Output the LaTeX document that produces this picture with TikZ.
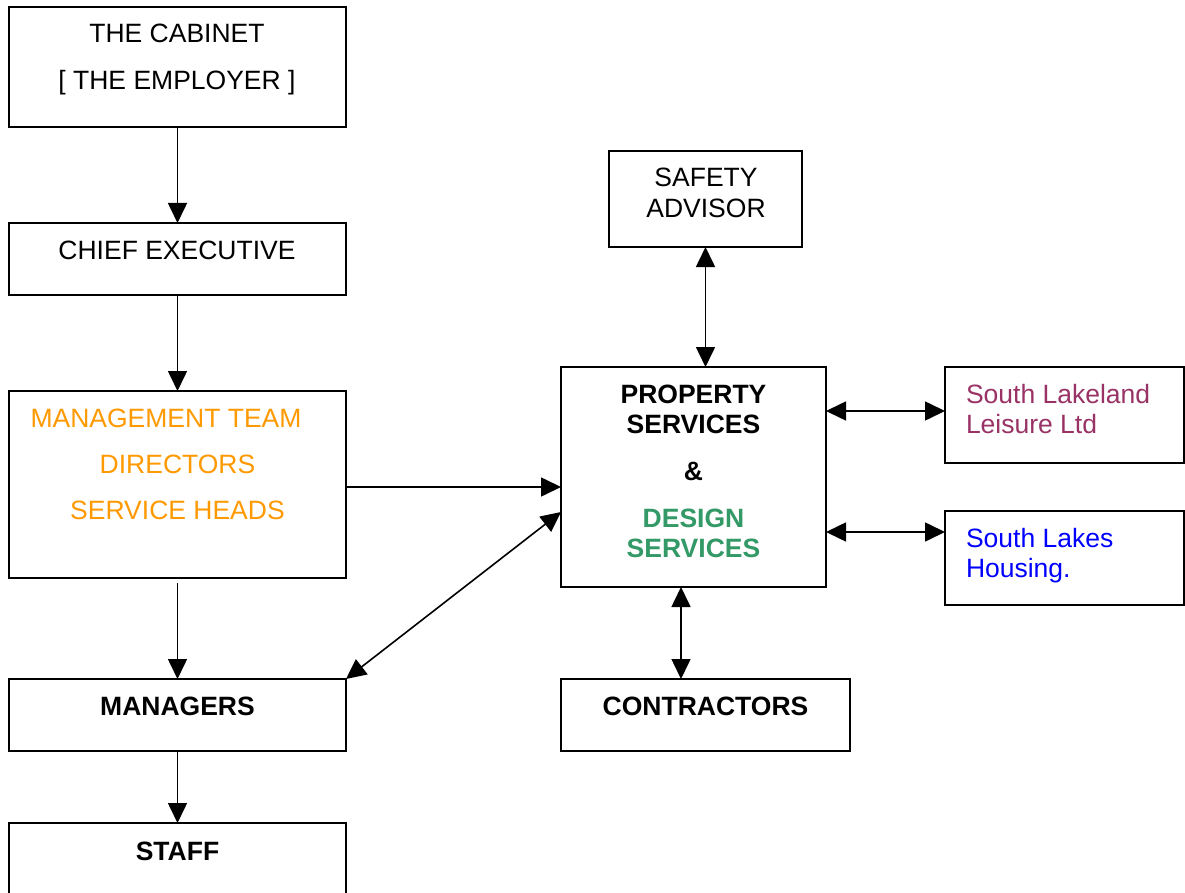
\documentclass[tikz,border=0pt]{standalone}
\usepackage{fontspec}
\setmainfont{Liberation Sans}
\usetikzlibrary{arrows.meta}
\definecolor{mgmtorange}{HTML}{FF9900}
\definecolor{designgreen}{HTML}{339966}
\definecolor{leisureplum}{HTML}{993366}
\definecolor{housingblue}{HTML}{0000FF}
\tikzset{
  box/.style={draw=black, line width=1.8pt, rectangle, inner sep=0pt, outer sep=0pt, fill=white},
  txt/.style={inner sep=0pt, outer sep=0pt, anchor=base, font=\fontsize{26.5}{30.5}\selectfont},
  btxt/.style={txt, font=\fontsize{26.5}{30.5}\selectfont\bfseries},
  ltxt/.style={txt, anchor=base west},
  conn/.style={line width=1.6pt, -{Triangle[length=20pt,width=19pt]}},
  biconn/.style={line width=1.6pt, {Triangle[length=20pt,width=19pt]}-{Triangle[length=20pt,width=19pt]}}
}
\begin{document}
\begin{tikzpicture}[x=1pt,y=-1pt]
\useasboundingbox (0,0) rectangle (1185,893);

% boxes
\node[box, minimum width=337pt, minimum height=120pt] (cab)    at (177.5,67)   {};
\node[box, minimum width=337pt, minimum height=72pt]  (chief)  at (177.5,259)  {};
\node[box, minimum width=337pt, minimum height=187pt] (mgmt)   at (177.5,484.5){};
\node[box, minimum width=337pt, minimum height=72pt]  (mgr)    at (177.5,715)  {};
\node[box, minimum width=337pt, minimum height=72pt]  (staff)  at (177.5,859)  {};
\node[box, minimum width=193pt, minimum height=96pt]  (safety) at (705.5,199)  {};
\node[box, minimum width=265pt, minimum height=220pt] (prop)   at (693.5,477)  {};
\node[box, minimum width=239pt, minimum height=96pt]  (sll)    at (1064.5,415) {};
\node[box, minimum width=239pt, minimum height=94pt]  (slh)    at (1064.5,558) {};
\node[box, minimum width=289pt, minimum height=72pt]  (contr)  at (705.5,715)  {};

% texts
\node[txt] (cabA) at (177,43) {THE CABINET};
\node[txt] (cabB) at (177,90) {[ THE EMPLOYER ]};
\node[txt] (chiefA) at (177,259) {CHIEF EXECUTIVE};
\node[txt, text=mgmtorange] (mgmtA) at (166,427) {MANAGEMENT TEAM};
\node[txt, text=mgmtorange] (mgmtB) at (177.5,473) {DIRECTORS};
\node[txt, text=mgmtorange] (mgmtC) at (177.5,519) {SERVICE HEADS};
\node[btxt] (mgrA) at (177.5,715) {MANAGERS};
\node[btxt] (staffA) at (177.5,860) {STAFF};
\node[txt] (safetyA) at (706,187) {SAFETY};
\node[txt] (safetyB) at (706,218) {ADVISOR};
\node[btxt] (propA) at (693.5,403) {PROPERTY};
\node[btxt] (propB) at (693.5,433) {SERVICES};
\node[btxt] (propC) at (693.5,480) {\&};
\node[btxt, text=designgreen] (propD) at (693.5,527) {DESIGN};
\node[btxt, text=designgreen] (propE) at (693.5,557) {SERVICES};
\node[ltxt, text=leisureplum] (sllA) at (966,403) {South Lakeland};
\node[ltxt, text=leisureplum] (sllB) at (966,433) {Leisure Ltd};
\node[ltxt, text=housingblue] (slhA) at (966,547) {South Lakes};
\node[ltxt, text=housingblue] (slhB) at (966,577) {Housing.};
\node[btxt] (contrA) at (705.5,715) {CONTRACTORS};

% connectors
\draw[conn] (cab) -- (chief);
\draw[conn] (chief) -- (mgmt);
\draw[conn, shorten <=5pt] (mgmt) -- (mgr);
\draw[conn] (mgr) -- (staff);
\draw[conn] (mgmt.east |- 0,487) -- (prop.west |- 0,487);
\draw[biconn] (mgr.north east) -- (prop.west |- 0,512);
\draw[biconn] (safety) -- (safety |- prop.north);
\draw[biconn] (prop.east |- 0,411) -- (sll.west |- 0,411);
\draw[biconn] (prop.east |- 0,532) -- (slh.west |- 0,532);
\draw[biconn] (prop.south -| 681,0) -- (contr.north -| 681,0);
\end{tikzpicture}
\end{document}
